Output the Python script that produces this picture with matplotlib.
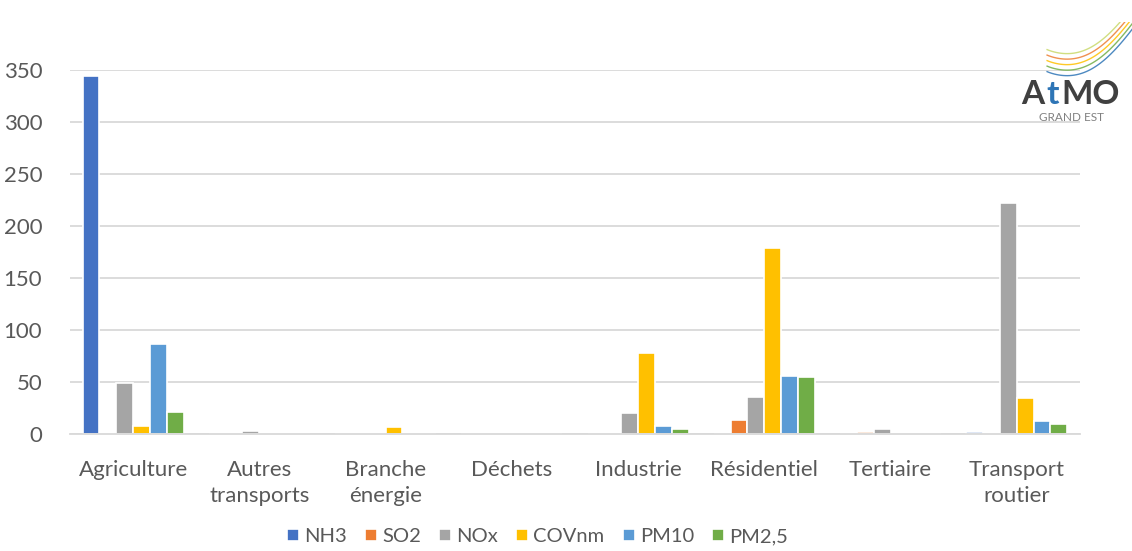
import numpy as np
import matplotlib.pyplot as plt

# emissions par secteur (t)
secteurs = ["Agriculture", "Autres\ntransports", "Branche\nénergie", "Déchets",
            "Industrie", "Résidentiel", "Tertiaire", "Transport\nroutier"]
polluants = ["NH3", "SO2", "NOx", "COVnm", "PM10", "PM2,5"]
couleurs = ["#4472C4", "#ED7D31", "#A5A5A5", "#FFC000", "#5B9BD5", "#70AD47"]

nh3   = [344, 0,   0, 0, 0,   0,   0,   2]
so2   = [0,   0,   0, 0, 0.5, 13.5, 2,  0]
nox   = [49,  3,   0, 0, 20,  35.5, 5,  222]
covnm = [8,   0,   7, 0, 78,  179, 0,   35]
pm10  = [86.5, 0.6, 0, 0, 8,  56,  0.6, 13]
pm25  = [21,  0,   0, 0, 5,   55,  0,   10]
series = [nh3, so2, nox, covnm, pm10, pm25]

plt.rcParams['font.family'] = ['Lato', 'DejaVu Sans']

fig = plt.figure(figsize=(11.32, 5.51), dpi=100)
ax = fig.add_axes([0.0618, 0.2123, 0.8922, 0.6606])

x = np.arange(len(secteurs))
w = 0.8 / 6
for i in range(6):
    ax.bar(x + (i - 2.5) * w, series[i], width=w, color=couleurs[i],
           edgecolor="white", linewidth=1.2, label=polluants[i], zorder=3)

ax.set_xlim(-0.5, len(secteurs) - 0.5)
ax.set_ylim(0, 350)
ax.set_yticks(range(0, 351, 50))
ax.set_xticks(x)
ax.set_xticklabels(secteurs, fontsize=16, color="#595959", linespacing=1.35)
ax.tick_params(axis="y", labelsize=16, labelcolor="#595959", length=0, pad=20)
ax.tick_params(axis="x", length=0, pad=19)
ax.grid(axis="y", color="#D9D9D9", linewidth=1.3, zorder=0)
for s in ["top", "right", "left"]:
    ax.spines[s].set_visible(False)
ax.spines["bottom"].set_color("#D9D9D9")
ax.spines["bottom"].set_linewidth(1.3)
ax.spines["bottom"].set_zorder(4)

fig.legend(loc="lower center", ncol=6, bbox_to_anchor=(0.475, -0.022), frameon=False,
           fontsize=14.5, handlelength=0.6, handleheight=0.6, handletextpad=0.25,
           columnspacing=0.9, labelcolor="#595959")

# logo AtMO Grand Est
lax = fig.add_axes([0.9, 0.76, 0.1, 0.2])
lax.set_xlim(0, 1)
lax.set_ylim(0, 1)
lax.axis("off")
t = np.linspace(0, 1, 50)
for k, c in enumerate(["#2E75B6", "#70AD47", "#FFC000", "#ED7D31", "#C9D96B"]):
    lax.plot(0.25 + 0.8 * t, 0.55 + 0.05 * k + 0.45 * t ** 1.6 - 0.12 * np.sin(np.pi * t),
             color=c, linewidth=1.0, alpha=0.85)
lax.text(0.02, 0.26, "A", fontsize=24, fontweight="bold", color="#404040", va="baseline")
lax.text(0.24, 0.26, "t", fontsize=24, fontweight="bold", color="#2E75B6", va="baseline")
lax.text(0.38, 0.26, "MO", fontsize=24, fontweight="bold", color="#404040", va="baseline")
lax.text(0.18, 0.1, "GRAND EST", fontsize=8.5, color="#808080", va="baseline")

fig.savefig("out.png", dpi=100)
